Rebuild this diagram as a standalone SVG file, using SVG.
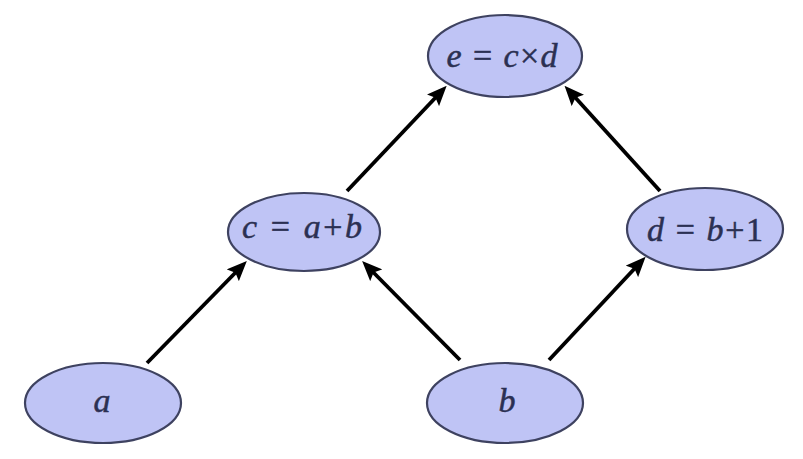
<svg xmlns="http://www.w3.org/2000/svg" width="803" height="459" viewBox="0 0 803 459">
<style>
.node ellipse{fill:#bfc4f5;stroke:#3e4260;stroke-width:2.2}
.node text{font-family:"Liberation Serif","Times New Roman",serif;font-size:34px;fill:#2b3052;stroke:#2b3052;stroke-width:0.5;text-anchor:middle}
.v{font-style:italic}
.edge{stroke:#000;stroke-width:3.8;fill:none;marker-end:url(#ah)}
</style>
<defs>
<marker id="ah" markerUnits="userSpaceOnUse" markerWidth="20" markerHeight="17" refX="7" refY="8" orient="auto" viewBox="0 0 19 16">
<path d="M0,0 L19,8 L0,16 L3.5,8 z" fill="#000"/>
</marker>
</defs>
<rect width="803" height="459" fill="#fff"/>
<g id="connectors">
<line class="edge" x1="147" y1="363" x2="238" y2="270"/>
<line class="edge" x1="460" y1="360" x2="371" y2="270"/>
<line class="edge" x1="549" y1="360" x2="637" y2="266"/>
<line class="edge" x1="347" y1="191" x2="438" y2="95"/>
<line class="edge" x1="660" y1="191" x2="573" y2="95"/>
</g>
<g id="node-e" class="node">
<ellipse cx="505" cy="56" rx="77" ry="41"/>
<text x="502" y="67" textLength="111" lengthAdjust="spacing"><tspan class="v">e</tspan> = <tspan class="v">c</tspan>×<tspan class="v">d</tspan></text>
</g>
<g id="node-c" class="node">
<ellipse cx="304" cy="232" rx="76" ry="39"/>
<text x="302" y="238" textLength="120" lengthAdjust="spacing"><tspan class="v">c</tspan> = <tspan class="v">a</tspan>+<tspan class="v">b</tspan></text>
</g>
<g id="node-d" class="node">
<ellipse cx="705" cy="229" rx="78" ry="41"/>
<text x="705" y="241" textLength="116" lengthAdjust="spacing"><tspan class="v">d</tspan> = <tspan class="v">b</tspan>+1</text>
</g>
<g id="node-a" class="node">
<ellipse cx="103" cy="403" rx="78" ry="40"/>
<text x="102" y="412" class="v">a</text>
</g>
<g id="node-b" class="node">
<ellipse cx="505" cy="403" rx="78" ry="40"/>
<text x="507" y="412" class="v">b</text>
</g>
</svg>
